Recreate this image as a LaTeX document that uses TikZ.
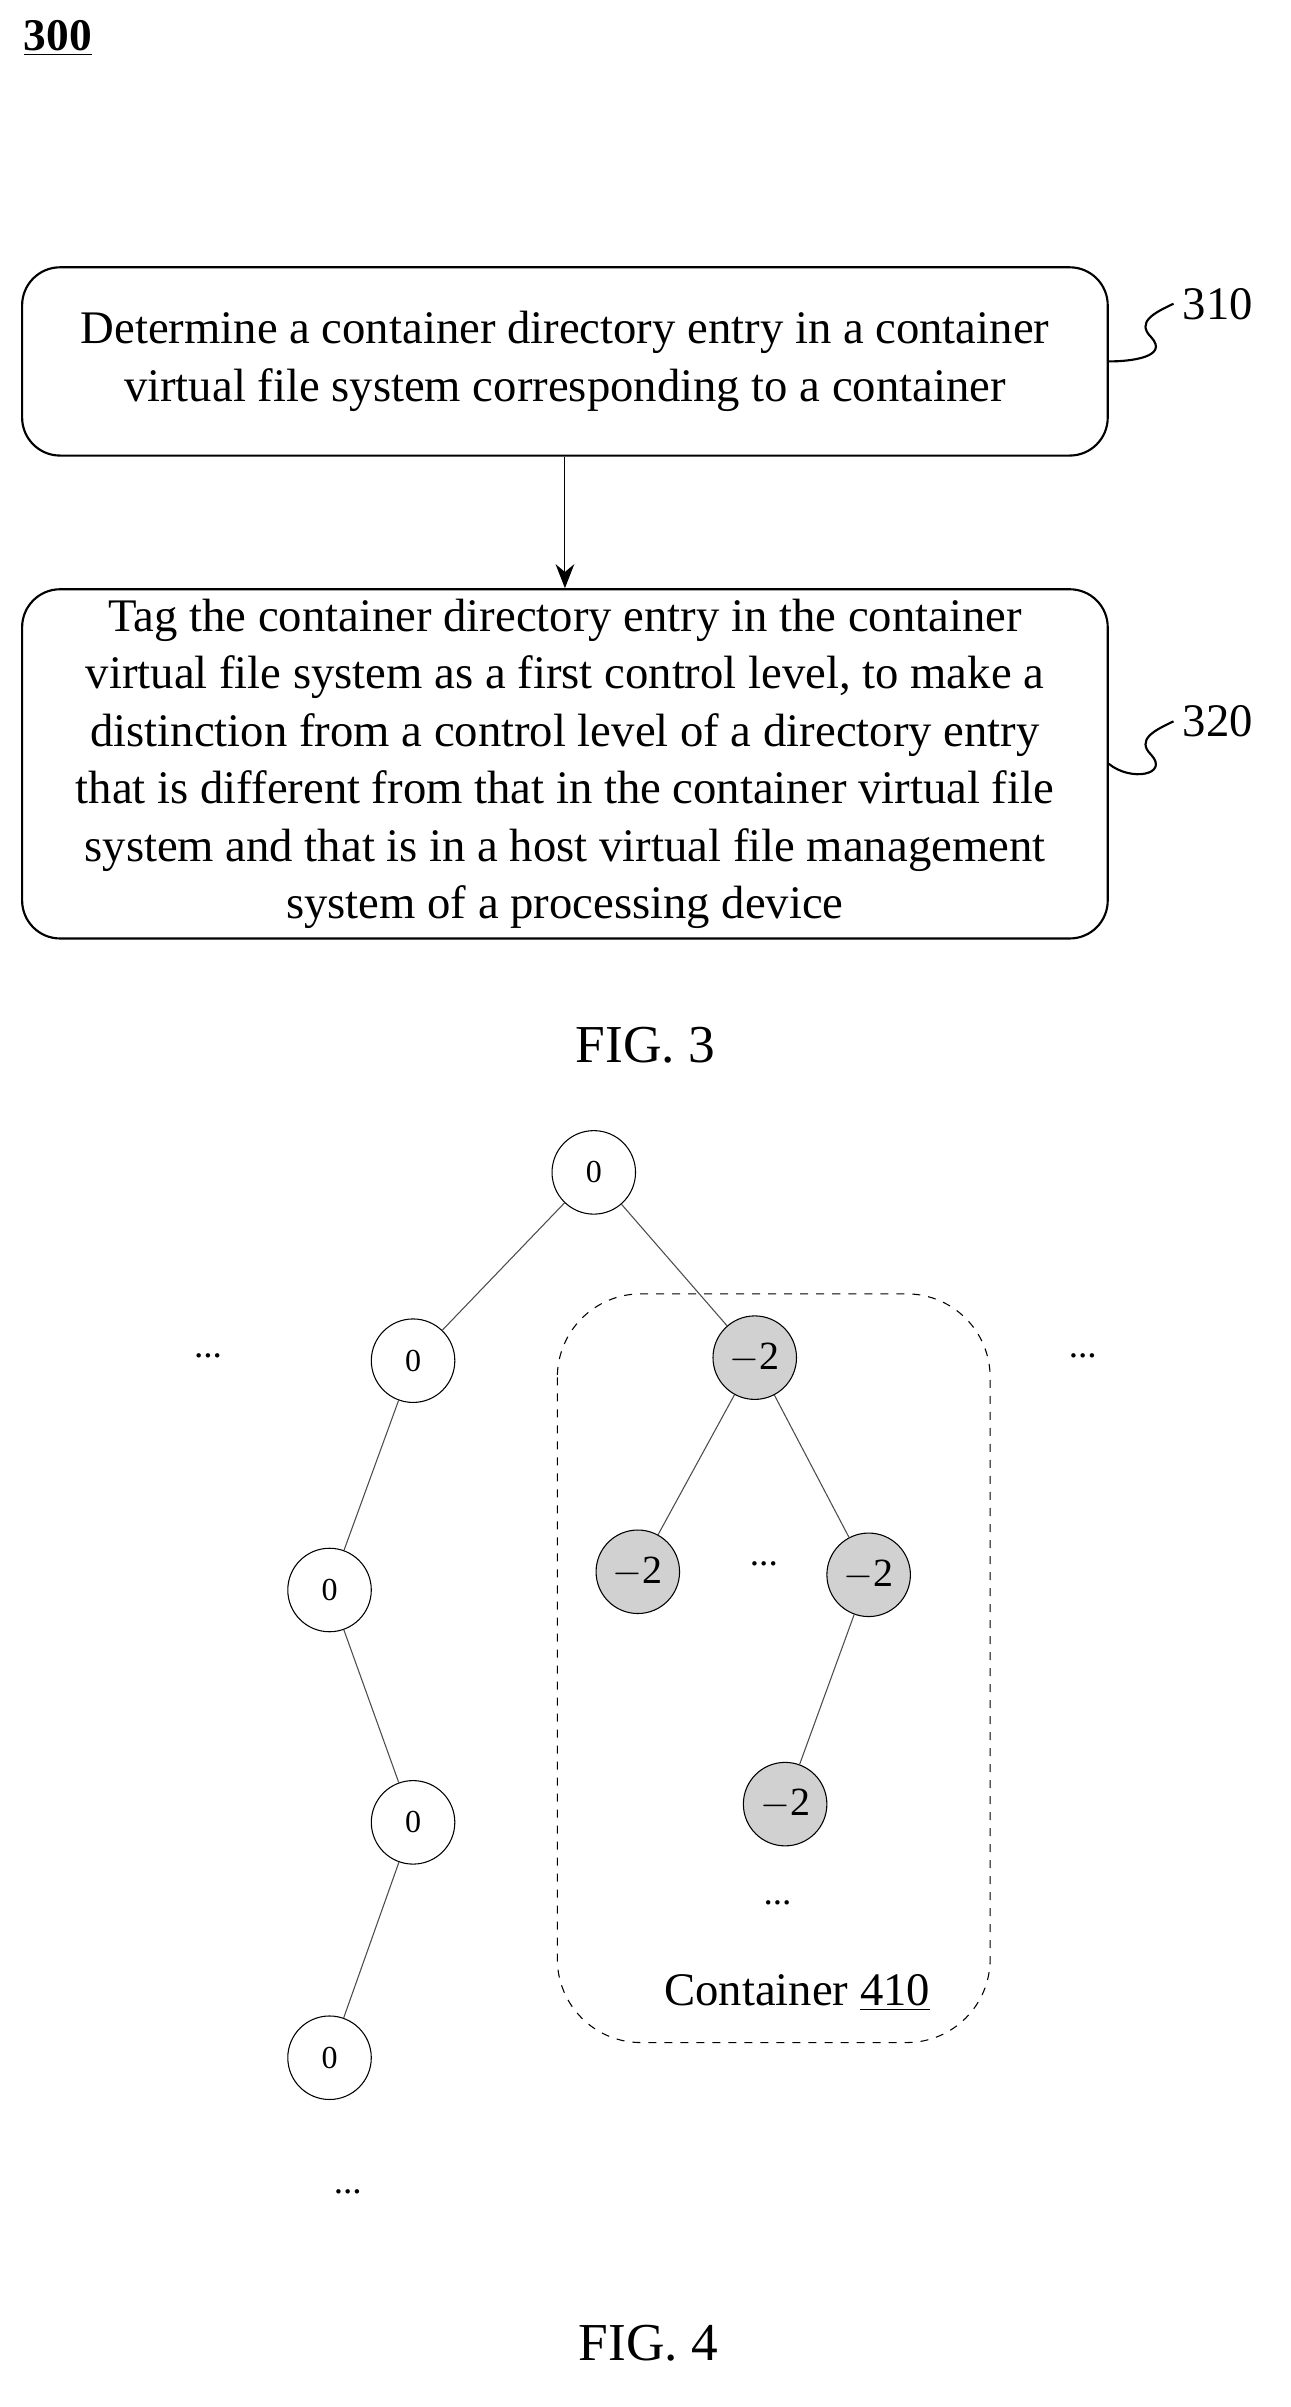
\documentclass[tikz,border=0pt]{standalone}
\usepackage{fontspec}
\setmainfont{Liberation Serif}
\usetikzlibrary{positioning,arrows.meta}
\tikzset{
  stepbox/.style={rectangle, rounded corners=0.5cm, draw=black, thick, minimum width=14.3cm, align=center, font=\fontsize{17.5}{21.5}\selectfont},
  level/.style={circle, draw=black, minimum size=1.1cm, inner sep=0pt, font=\fontsize{12}{14}\selectfont},
  ctr/.style={level, fill=black!18, font=\fontsize{15}{17}\selectfont},
  edge/.style={draw=black!70, thin},
  dots/.style={font=\fontsize{14}{16}\selectfont},
  squig/.style={thick},
}
\begin{document}
\begin{tikzpicture}[x=0.02cm, y=-0.02cm]
\useasboundingbox (0,0) rectangle (850,1585);

\node (title) at (38,25) {\fontsize{17}{20}\selectfont\bfseries\underline{300}};

% FIG. 3
\node (s310) [stepbox, minimum height=2.48cm] at (372,238) {Determine a container directory entry in a container\\virtual file system corresponding to a container};
\node (s320) [stepbox, minimum height=4.6cm] at (372,503) {Tag the container directory entry in the container\\virtual file system as a first control level, to make a\\distinction from a control level of a directory entry\\that is different from that in the container virtual file\\system and that is in a host virtual file management\\system of a processing device};
\draw [-{Stealth[length=9pt,width=7pt]}] (s310) -- (s320);

\node (l310) [font=\fontsize{17.5}{20}\selectfont] at (802,200) {310};
\node (l320) [font=\fontsize{17.5}{20}\selectfont] at (802,475) {320};
\draw [squig] (s310.east) .. controls (745,238) and (770,235) .. (758,222) .. controls (748,212) and (760,206) .. (l310.west);
\draw [squig] (s320.east) .. controls (745,515) and (770,510) .. (758,497) .. controls (748,487) and (760,481) .. (l320.west);

\node (fig3) [font=\fontsize{20}{24}\selectfont] at (425,688) {FIG. 3};

% FIG. 4
\draw [dashed, rounded corners=1.1cm] (367,852) rectangle (652,1345);
\node (root) [level] at (391,772) {0};
\node (a1) [level] at (272,896) {0};
\node (a2) [level] at (217,1047) {0};
\node (a3) [level] at (272,1200) {0};
\node (a4) [level] at (217,1355) {0};
\node (c0) [ctr] at (497,894) {$-$2};
\node (c1) [ctr] at (420,1035) {$-$2};
\node (c2) [ctr] at (572,1037) {$-$2};
\node (c3) [ctr] at (517,1188) {$-$2};

\draw [edge] (root) -- (a1);
\draw [edge] (root) -- (c0);
\draw [edge] (a1) -- (a2);
\draw [edge] (a2) -- (a3);
\draw [edge] (a3) -- (a4);
\draw [edge] (c0) -- (c1);
\draw [edge] (c0) -- (c2);
\draw [edge] (c2) -- (c3);

\node (d1) [dots] at (137,893) {...};
\node (d2) [dots] at (713,893) {...};
\node (d3) [dots] at (503,1030) {...};
\node (d4) [dots] at (512,1253) {...};
\node (d5) [dots] at (229,1443) {...};

\node (box410) [font=\fontsize{17.5}{20}\selectfont] at (525,1312) {Container \underline{410}};
\node (fig4) [font=\fontsize{20}{24}\selectfont] at (427,1543) {FIG. 4};
\end{tikzpicture}
\end{document}
